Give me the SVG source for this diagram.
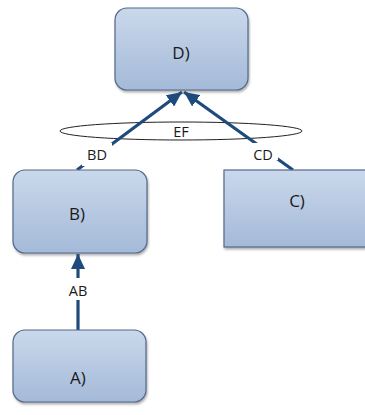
<svg xmlns="http://www.w3.org/2000/svg" width="365" height="415" viewBox="0 0 365 415">
  <defs>
    <linearGradient id="boxFill" x1="0" y1="0" x2="0" y2="1">
      <stop offset="0" stop-color="#cad8eb"/>
      <stop offset="1" stop-color="#a4bad8"/>
    </linearGradient>
    <filter id="shadow" x="-10%" y="-10%" width="130%" height="130%">
      <feDropShadow dx="1" dy="2" stdDeviation="1.2" flood-color="#555" flood-opacity="0.45"/>
    </filter>
    <marker id="arrow" markerUnits="userSpaceOnUse" markerWidth="16" markerHeight="14" refX="15" refY="7" orient="auto">
      <path d="M0,0 L15,7 L0,14 Z" fill="#1f4a7c"/>
    </marker>
    <style>
      .box { fill: url(#boxFill); stroke: #52698c; stroke-width: 1.2; filter: url(#shadow); }
      .node-text { font-family: "Open Sans", "Liberation Sans", sans-serif; font-size: 17px; fill: #1a1a1a; text-anchor: middle; dominant-baseline: central; }
      .edge { stroke: #1f4a7c; stroke-width: 3.2; fill: none; }
      .label { font-family: "Open Sans", "Liberation Sans", sans-serif; font-size: 14.5px; fill: #1a1a1a; text-anchor: middle; dominant-baseline: central; }
      .label-bg { fill: #ffffff; }
    </style>
  </defs>

  <rect width="365" height="415" fill="#ffffff"/>

  <!-- grouping ellipse -->
  <g id="EF">
    <ellipse cx="181" cy="131" rx="121" ry="9" fill="none" stroke="#222" stroke-width="1"/>
    <text class="label" x="181" y="131">EF</text>
  </g>

  <!-- connectors -->
  <g id="connectors">
    <line class="edge" x1="77" y1="170" x2="182" y2="92" marker-end="url(#arrow)"/>
    <line class="edge" x1="293" y1="170" x2="184" y2="92" marker-end="url(#arrow)"/>
    <line class="edge" x1="78" y1="330" x2="78" y2="254" marker-end="url(#arrow)"/>
    <rect class="label-bg" x="82" y="143" width="30" height="23"/>
    <text class="label" x="97" y="154">BD</text>
    <rect class="label-bg" x="248" y="143" width="30" height="17"/>
    <text class="label" x="263" y="154">CD</text>
    <rect class="label-bg" x="63" y="278" width="30" height="22"/>
    <text class="label" x="78" y="290">AB</text>
  </g>

  <!-- nodes -->
  <g id="D">
    <rect class="box" x="115" y="8" width="133" height="82" rx="12"/>
    <text class="node-text" x="181" y="52">D)</text>
  </g>
  <g id="B">
    <rect class="box" x="13" y="170" width="134" height="83" rx="12"/>
    <text class="node-text" x="77" y="213">B)</text>
  </g>
  <g id="C">
    <rect class="box" x="224" y="170" width="150" height="77"/>
    <text class="node-text" x="297" y="200">C)</text>
  </g>
  <g id="A">
    <rect class="box" x="13" y="330" width="133" height="72" rx="12"/>
    <text class="node-text" x="78" y="377">A)</text>
  </g>
</svg>
